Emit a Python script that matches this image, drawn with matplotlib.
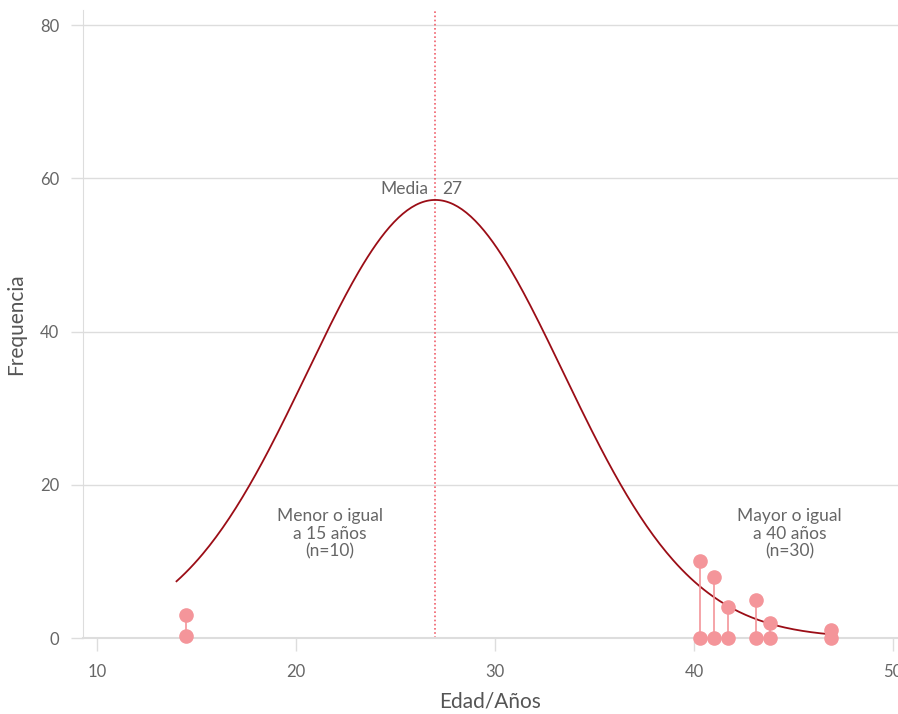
import numpy as np
import matplotlib
matplotlib.use("Agg")
import matplotlib.pyplot as plt

plt.rcParams['font.family'] = ['Lato', 'DejaVu Sans']

# Observed points (age, frequency)
low_x = [14.5, 14.5]
low_y = [0.3, 3]
high_x = [40.3, 41.0, 41.7, 43.1, 43.8, 46.9]
high_top = [10, 8, 4, 5, 2, 1]
high_base = [0, 0, 0, 0, 0, 0]

# Fitted normal curve parameters
mean_age = 27
sd_age = 6.43
peak = 57.2
curve_start, curve_end = 14, 47

gray_text = '#666666'
grid_col = '#dddddd'
point_col = '#f4959a'
curve_col = '#9b0d16'
mean_col = '#f0606c'

fig = plt.figure(figsize=(8.98, 7.14), dpi=100)
ax = fig.add_axes([0.0924, 0.1064, 0.9076, 0.8796])

# normal curve
xs = np.linspace(curve_start, curve_end, 300)
ys = peak * np.exp(-(xs - mean_age) ** 2 / (2 * sd_age ** 2))
ax.plot(xs, ys, color=curve_col, lw=1.3, zorder=3)

# mean line
ax.axvline(mean_age, color=mean_col, lw=1.2, ls=(0, (1, 1.5)), zorder=2)
ax.text(mean_age - 0.35, 58.6, 'Media', ha='right', va='center',
        fontsize=12.5, color=gray_text)
ax.text(mean_age + 0.35, 58.6, '27', ha='left', va='center',
        fontsize=12.5, color=gray_text)

# stems and points
ax.vlines(low_x[0], low_y[0], low_y[1], color=point_col, lw=1.2, zorder=4)
ax.scatter(low_x, low_y, s=90, color=point_col, zorder=5, clip_on=False)
ax.vlines(high_x, high_base, high_top, color=point_col, lw=1.2, zorder=4)
ax.scatter(high_x, high_base, s=90, color=point_col, zorder=5, clip_on=False)
ax.scatter(high_x, high_top, s=90, color=point_col, zorder=5, clip_on=False)

# group annotations
ax.text(21.7, 13.6, 'Menor o igual\na 15 años\n(n=10)', ha='center', va='center',
        fontsize=12.5, color=gray_text, linespacing=1.1)
ax.text(44.8, 13.6, 'Mayor o igual\na 40 años\n(n=30)', ha='center', va='center',
        fontsize=12.5, color=gray_text, linespacing=1.1)

ax.set_xlim(9.3, 50.25)
ax.set_ylim(0, 82)
ax.set_xticks([10, 20, 30, 40, 50])
ax.set_yticks([0, 20, 40, 60, 80])
ax.grid(axis='y', color=grid_col, lw=1)
ax.set_axisbelow(True)

for side in ['top', 'right']:
    ax.spines[side].set_visible(False)
ax.spines['left'].set_color(grid_col)
ax.spines['bottom'].set_color(grid_col)
ax.spines['bottom'].set_linewidth(1.5)
ax.tick_params(axis='both', colors=grid_col, length=9, width=1,
               labelcolor=gray_text, labelsize=12)
ax.tick_params(axis='y', pad=8)
ax.tick_params(axis='x', pad=10)

ax.set_xlabel('Edad/Años', fontsize=15, color='#555555', labelpad=8)
ax.set_ylabel('Frequencia', fontsize=15, color='#555555', labelpad=10)

fig.savefig('out.png', dpi=100)
